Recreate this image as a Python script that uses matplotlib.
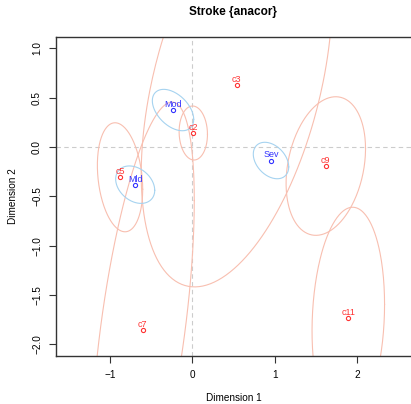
import numpy as np
import matplotlib
matplotlib.use("Agg")
import matplotlib.pyplot as plt

plt.rcParams["font.family"] = ["Liberation Sans", "DejaVu Sans"]

# row scores (blue) and column scores (red), with confidence ellipse shapes
row_names = ["Mld", "Mod", "Sev"]
row_x = [-0.693, -0.234, 0.955]
row_y = [-0.382, 0.375, -0.137]
row_wx = [0.237, 0.251, 0.215]
row_wy = [0.190, 0.210, 0.185]
row_rho = [-0.30, -0.45, -0.35]

col_names = ["c2", "c3", "c5", "c7", "c9", "c11"]
col_x = [0.012, 0.539, -0.877, -0.602, 1.620, 1.893]
col_y = [0.142, 0.629, -0.307, -1.856, -0.193, -1.731]
col_wx = [0.172, 1.159, 0.275, 0.626, 0.482, 0.440]
col_wy = [0.274, 2.048, 0.553, 2.312, 0.703, 1.120]
col_rho = [-0.05, 0.44, -0.22, 0.568, 0.25, 0.12]

x_ticks = [-1, 0, 1, 2]
y_ticks = [-2.0, -1.5, -1.0, -0.5, 0.0, 0.5, 1.0]

RED = "#FF3333"
BLUE = "#3333FF"
RED_ELL = "#F8BFB0"
BLUE_ELL = "#A6D3F0"


def ellipse_xy(cx, cy, wx, wy, rho, n=300):
    t = np.linspace(0, 2 * np.pi, n)
    x = cx + wx * np.cos(t)
    y = cy + wy * (rho * np.cos(t) + np.sqrt(1 - rho ** 2) * np.sin(t))
    return x, y


fig = plt.figure(figsize=(4.11, 4.04), dpi=100)
ax = fig.add_axes([56 / 411, 1 - 355.7 / 404, 356 / 411, (355.7 - 37) / 404])

ax.axhline(0, color="#CCCCCC", lw=0.8, ls=(0, (4, 3)), zorder=1)
ax.axvline(0, color="#CCCCCC", lw=0.8, ls=(0, (4, 3)), zorder=1)

for i in range(len(col_names)):
    ex, ey = ellipse_xy(col_x[i], col_y[i], col_wx[i], col_wy[i], col_rho[i])
    ax.plot(ex, ey, color=RED_ELL, lw=0.8, zorder=2)
for i in range(len(row_names)):
    ex, ey = ellipse_xy(row_x[i], row_y[i], row_wx[i], row_wy[i], row_rho[i])
    ax.plot(ex, ey, color=BLUE_ELL, lw=0.8, zorder=2)

ax.plot(col_x, col_y, "o", ms=3.0, mfc="none", mec=RED, mew=0.8, zorder=3)
ax.plot(row_x, row_y, "o", ms=3.0, mfc="none", mec=BLUE, mew=0.8, zorder=3)
for name, x, y in zip(col_names, col_x, col_y):
    ax.annotate(name, (x, y), xytext=(0, 4), textcoords="offset points",
                ha="center", va="center", fontsize=6.5, color=RED, zorder=4)
for name, x, y in zip(row_names, row_x, row_y):
    ax.annotate(name, (x, y), xytext=(0, 4), textcoords="offset points",
                ha="center", va="center", fontsize=6.5, color=BLUE, zorder=4)

ax.set_xlim(-1.654, 2.666)
ax.set_ylim(-2.117, 1.116)
ax.set_xticks(x_ticks)
ax.set_xticklabels([f"{v:g}".replace("-", "\u2212") for v in x_ticks])
ax.set_yticks(y_ticks)
ax.set_yticklabels([f"{v:.1f}".replace("-", "\u2212") for v in y_ticks],
                   rotation=90, va="center")
ax.tick_params(direction="out", length=5, width=0.8, labelsize=7.2, pad=5,
               colors="#333333", labelcolor="black")
for sp in ax.spines.values():
    sp.set_linewidth(1.0)
    sp.set_color("#333333")

ax.set_xlabel("Dimension 1", fontsize=7.2, labelpad=10)
ax.set_ylabel("Dimension 2", fontsize=7.2, labelpad=10)
fig.text(233 / 411, 1 - 12 / 404, "Stroke {anacor}", ha="center", va="center",
         fontsize=8.5, fontweight="bold")

fig.savefig("out.png", dpi=100)
